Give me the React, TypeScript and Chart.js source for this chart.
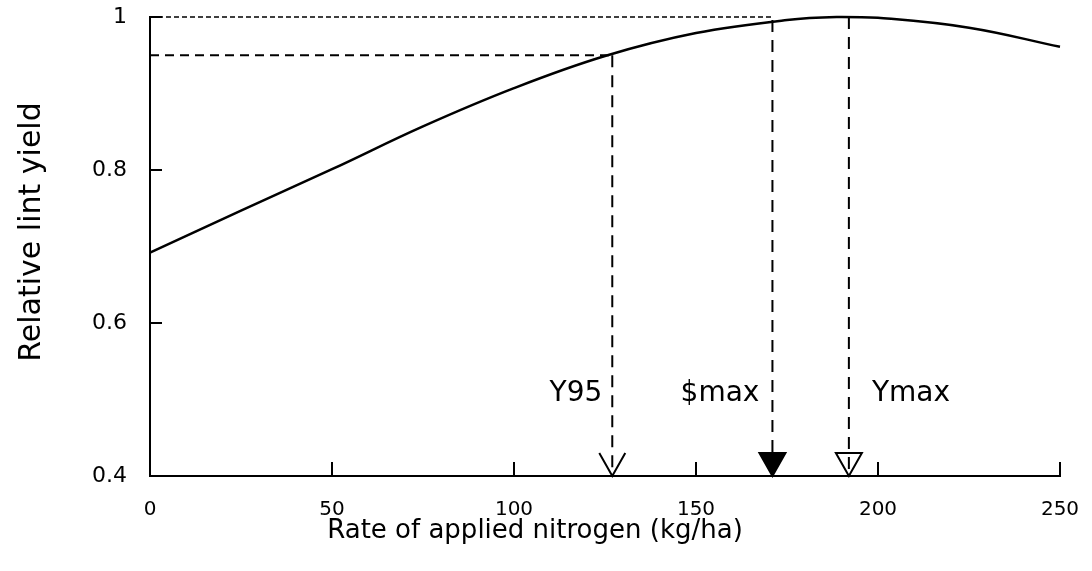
import { useEffect, useRef } from "react";
import { Chart, registerables } from "chart.js";

Chart.register(...registerables);

// ---- data ----
const nitrogenRates = [0, 25, 50, 75, 100, 125, 150, 175, 190, 200, 225, 250];
const relativeYield = [0.692, 0.747, 0.801, 0.857, 0.907, 0.949, 0.979, 0.996, 1.0, 0.999, 0.986, 0.961];
const xTicks = [0, 50, 100, 150, 200, 250];
const yTicks = [0.4, 0.6, 0.8, 1];
const markerNames = ["Y95", "$max", "Ymax"];
const markerRates = [127, 171, 192];
const markerYields = [0.95, 0.996, 1.0];
const markerArrows = ["open-v", "filled", "open-triangle"];
const y95Level = 0.95;
const maxLevel = 1.0;
const xTitle = "Rate of applied nitrogen (kg/ha)";
const yTitle = "Relative lint yield";

const FONT = "'DejaVu Sans', 'Liberation Sans', sans-serif";

export default function App() {
  const ref = useRef<HTMLCanvasElement | null>(null);

  useEffect(() => {
    const canvas = ref.current;
    if (!canvas) return;

    const decorPlugin = {
      id: "decor",
      afterDraw(chart: any) {
        const { ctx, scales } = chart;
        const xs = scales.x;
        const ys = scales.y;
        const bottom = ys.getPixelForValue(0.4);
        const left = xs.getPixelForValue(0);
        ctx.save();
        ctx.strokeStyle = "#000";
        ctx.fillStyle = "#000";
        ctx.lineWidth = 2;
        ctx.setLineDash([]);
        // inward tick marks
        xs.ticks.forEach((t: any) => {
          const px = xs.getPixelForValue(t.value);
          ctx.beginPath();
          ctx.moveTo(px, bottom);
          ctx.lineTo(px, bottom - 14);
          ctx.stroke();
        });
        ys.ticks.forEach((t: any) => {
          const py = ys.getPixelForValue(t.value);
          ctx.beginPath();
          ctx.moveTo(left, py);
          ctx.lineTo(left + 12, py);
          ctx.stroke();
        });
        // arrowheads
        markerRates.forEach((r, i) => {
          const px = xs.getPixelForValue(r);
          const hw = 13;
          const h = 23;
          ctx.beginPath();
          if (markerArrows[i] === "open-v") {
            ctx.moveTo(px - hw, bottom - h);
            ctx.lineTo(px, bottom);
            ctx.lineTo(px + hw, bottom - h);
            ctx.stroke();
          } else {
            ctx.moveTo(px - hw, bottom - h);
            ctx.lineTo(px + hw, bottom - h);
            ctx.lineTo(px, bottom);
            ctx.closePath();
            if (markerArrows[i] === "filled") {
              ctx.fill();
            }
            ctx.stroke();
          }
        });
        // marker labels
        ctx.font = `28px ${FONT}`;
        ctx.textBaseline = "alphabetic";
        const labelBase = bottom - 75;
        const offsets = [-10, -13, 23];
        markerNames.forEach((name, i) => {
          const px = xs.getPixelForValue(markerRates[i]);
          ctx.textAlign = offsets[i] < 0 ? "right" : "left";
          ctx.fillText(name, px + offsets[i], labelBase);
        });
        // axis titles
        ctx.font = `26px ${FONT}`;
        ctx.textAlign = "center";
        ctx.fillText(xTitle, 535, 538);
        ctx.save();
        ctx.translate(40, 232);
        ctx.rotate(-Math.PI / 2);
        ctx.font = `30px ${FONT}`;
        ctx.fillText(yTitle, 0, 0);
        ctx.restore();
        ctx.restore();
      },
    };

    const dashed = (pts: { x: number; y: number }[], dash: number[], w: number) => ({
      data: pts,
      borderColor: "#000",
      borderWidth: w,
      borderDash: dash,
      pointRadius: 0,
      tension: 0,
      fill: false,
      clip: false as any,
    });

    const datasets: any[] = [
      {
        data: nitrogenRates.map((x, i) => ({ x, y: relativeYield[i] })),
        borderColor: "#000",
        borderWidth: 2.5,
        pointRadius: 0,
        tension: 0.4,
        fill: false,
        clip: false,
      },
      dashed([{ x: 0, y: y95Level }, { x: markerRates[0], y: y95Level }], [9, 6], 2),
      dashed([{ x: 0, y: maxLevel }, { x: markerRates[1], y: maxLevel }], [5, 3], 1.5),
      ...markerRates.map((r, i) =>
        dashed([{ x: r, y: markerYields[i] }, { x: r, y: 0.4 }], [12, 8], 2)
      ),
    ];

    const chart = new Chart(canvas, {
      type: "line",
      data: { datasets },
      options: {
        responsive: false,
        animation: false,
        layout: { padding: { top: 17, right: 32, left: 0, bottom: 0 } },
        plugins: { legend: { display: false }, tooltip: { enabled: false } },
        scales: {
          x: {
            type: "linear",
            min: 0,
            max: 250,
            grid: { display: false, drawTicks: false },
            border: { display: true, color: "#000", width: 2 },
            afterBuildTicks: (s: any) => {
              s.ticks = xTicks.map((v) => ({ value: v }));
            },
            afterFit: (s: any) => {
              s.height = 95;
              s.paddingLeft = 0;
              s.paddingRight = 0;
            },
            ticks: {
              padding: 22,
              color: "#000",
              font: { family: FONT, size: 20 },
              maxRotation: 0,
              autoSkip: false,
            },
          },
          y: {
            type: "linear",
            min: 0.4,
            max: 1.0,
            grid: { display: false, drawTicks: false },
            border: { display: true, color: "#000", width: 2 },
            afterBuildTicks: (s: any) => {
              s.ticks = yTicks.map((v) => ({ value: v }));
            },
            afterFit: (s: any) => {
              s.width = 150;
              s.paddingTop = 0;
              s.paddingBottom = 0;
            },
            ticks: {
              padding: 23,
              color: "#000",
              font: { family: FONT, size: 22 },
              callback: (v: any) => (Number(v) === 1 ? "1" : Number(v).toFixed(1)),
            },
          },
        },
      },
      plugins: [decorPlugin],
    });

    return () => chart.destroy();
  }, []);

  return (
    <div style={{ position: "fixed", left: 0, top: 0, width: 1092, height: 571, background: "#fff" }}>
      <canvas ref={ref} width={1092} height={571} style={{ display: "block" }} />
    </div>
  );
}
